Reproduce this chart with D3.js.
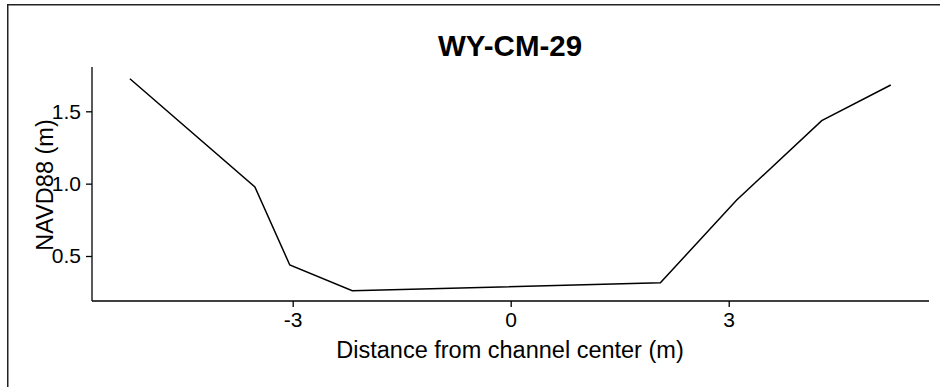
<!DOCTYPE html>
<html>
<head>
<meta charset="utf-8">
<script src="https://cdn.jsdelivr.net/npm/d3@7"></script>
<style>
  body { margin: 0; background: #fff; }
  text { font-family: "Liberation Sans", Arial, Helvetica, sans-serif; fill: #000; }
</style>
</head>
<body>
<div id="chart"></div>
<script>
// cross-section profile
const dist = [-5.24, -3.52, -3.04, -2.18, 2.06, 3.11, 4.28, 5.23];
const elev = [1.725, 0.977, 0.438, 0.26, 0.315, 0.887, 1.435, 1.682];
const xTicks = [-3, 0, 3];
const yTicks = [0.5, 1.0, 1.5];
const title = "WY-CM-29";
const xLabel = "Distance from channel center (m)";
const yLabel = "NAVD88 (m)";

let width = 940, height = 387;
const m = {left: 92, right: 11, top: 67, bottom: 86};

const pts = dist.map((d, i) => ({x: d, y: elev[i]}));

// x: 72.67 px per metre, 0 sits at 510.7
const x = d3.scaleLinear()
    .domain([(m.left - 510.7) / 72.67, (width - m.right - 510.7) / 72.67])
    .range([m.left, width - m.right]);
// y: 144.7 px per metre, 0.5 sits at 256
const y = d3.scaleLinear()
    .domain([0.5 - (height - m.bottom - 256) / 144.7, 0.5 + (256 - m.top) / 144.7])
    .range([height - m.bottom, m.top]);

let svg = d3.select("#chart").append("svg")
    .attr("width", width)
    .attr("height", height);

// outer frame
svg.append("rect")
    .attr("x", 7.75).attr("y", 4.75)
    .attr("width", width + 10).attr("height", height + 10)
    .attr("fill", "none").attr("stroke", "#222").attr("stroke-width", 1.5);

svg.append("text")
    .attr("x", 510).attr("y", 56)
    .attr("text-anchor", "middle")
    .style("font-size", "29.5px").style("font-weight", "bold")
    .text(title);

let gx = svg.append("g")
    .attr("transform", `translate(0,${height - m.bottom})`)
    .call(d3.axisBottom(x).tickValues(xTicks).tickSize(6).tickPadding(5).tickFormat(d => String(d)));
let gy = svg.append("g")
    .attr("transform", `translate(${m.left},0)`)
    .call(d3.axisLeft(y).tickValues(yTicks).tickSize(6).tickPadding(5).tickFormat(d => d.toFixed(1)));

[gx, gy].forEach(g => {
    g.select(".domain").attr("stroke", "#000").attr("stroke-width", 1.3)
        .attr("d", g === gx ? `M${m.left},0H${width - m.right}` : `M0,${height - m.bottom}V${m.top}`);
    g.selectAll(".tick line").attr("stroke", "#000").attr("stroke-width", 1.3);
    g.selectAll(".tick text").style("font-size", "21px").attr("fill", "#000")
        .style("font-family", '"Liberation Sans", Arial, sans-serif');
});
gx.selectAll(".tick text").attr("dy", "0.71em");

svg.append("text")
    .attr("x", 510).attr("y", 358)
    .attr("text-anchor", "middle")
    .style("font-size", "23.5px")
    .text(xLabel);

svg.append("text")
    .attr("transform", "translate(53,185) rotate(-90)")
    .attr("text-anchor", "middle")
    .style("font-size", "23.5px")
    .text(yLabel);

const line = d3.line().x(d => x(d.x)).y(d => y(d.y));
svg.append("path")
    .datum(pts)
    .attr("d", line)
    .attr("fill", "none")
    .attr("stroke", "#000")
    .attr("stroke-width", 1.5);
</script>
</body>
</html>
